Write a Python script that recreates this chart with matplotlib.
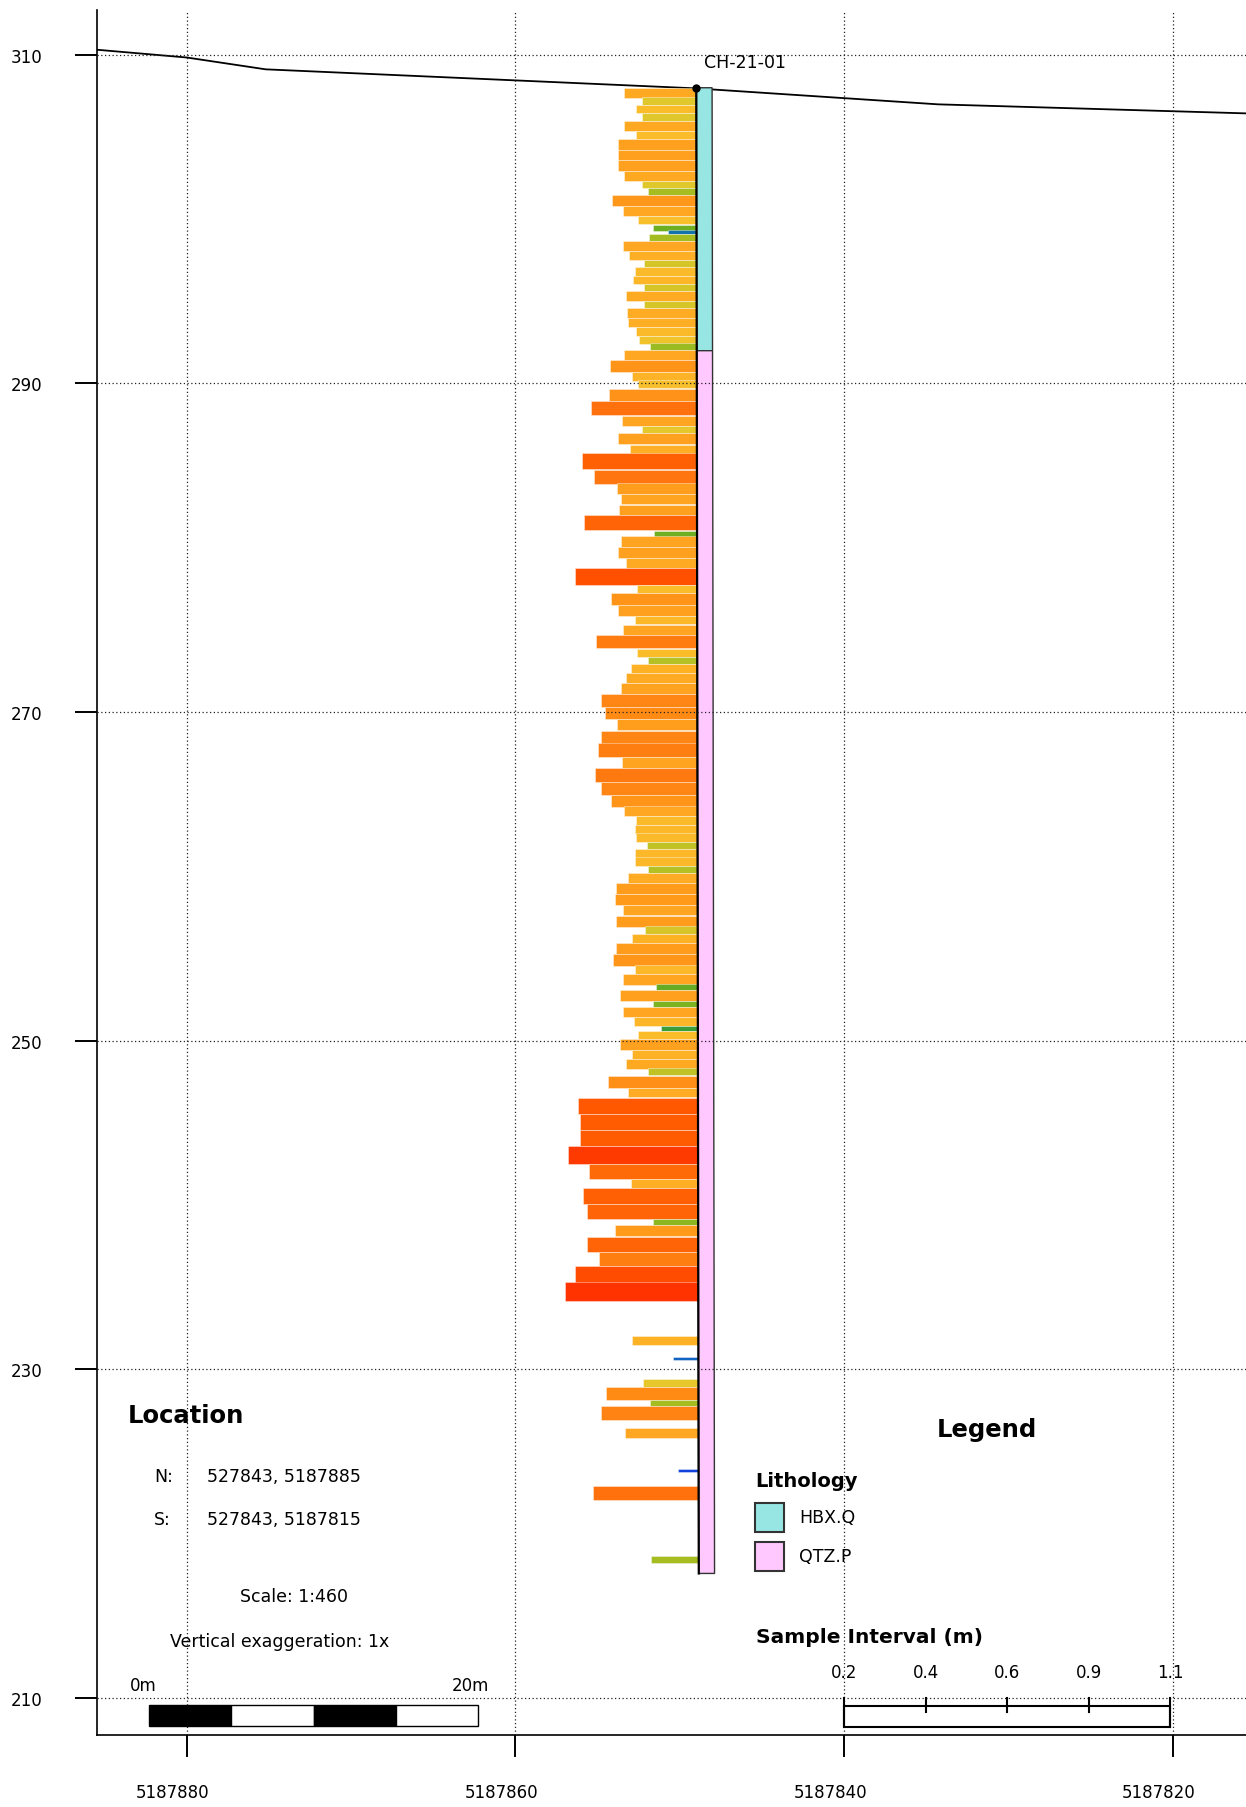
import matplotlib
matplotlib.use('Agg')
import matplotlib.pyplot as plt
import numpy as np
from matplotlib.colors import LinearSegmentedColormap, Normalize
from matplotlib.patches import Rectangle, Polygon
from matplotlib.transforms import ScaledTranslation

plt.rcParams['font.family'] = ['DejaVu Sans']

# drillhole CH-21-01 (vertical section, looking along easting 527843)
hole_name = 'CH-21-01'
collar_n = 5187849.0
collar_elev = 307.98
eoh_n = 5187848.85
eoh_depth = 90.4
col_width = 0.96

litho_codes = ['HBX.Q', 'QTZ.P']
litho_from = [0.0, 16.0]
litho_to = [16.0, 90.4]
litho_colors = ['#98e6e4', '#ffc8ff']

# sample intervals: depth from collar (m) and sample length (m)
depth_from = [0.0, 0.58, 1.05, 1.56, 2.03, 2.62, 3.12, 3.77, 4.42, 5.05,
              5.66, 6.10, 6.51, 7.22, 7.82, 8.34, 8.66, 8.90, 9.31, 9.92,
              10.48, 10.93, 11.44, 11.94, 12.39, 12.98, 13.42, 13.99, 14.58, 15.09,
              15.55, 15.94, 16.57, 17.28, 17.80, 18.33, 19.06, 19.96, 20.57, 21.03,
              21.72, 22.25, 23.24, 24.07, 24.72, 25.37, 26.00, 26.95, 27.30, 27.95,
              28.62, 29.22, 30.26, 30.75, 31.49, 32.13, 32.67, 33.28, 34.15, 34.66,
              35.08, 35.63, 36.22, 36.87, 37.66, 38.43, 39.12, 39.89, 40.74, 41.37,
              42.23, 43.02, 43.72, 44.33, 44.86, 45.37, 45.90, 46.32, 46.83, 47.37,
              47.78, 48.39, 49.04, 49.73, 50.38, 51.03, 51.48, 52.02, 52.71, 53.40,
              53.95, 54.55, 54.92, 55.55, 55.92, 56.53, 57.07, 57.38, 57.90, 58.53,
              59.10, 59.67, 60.12, 60.86, 61.45, 62.43, 63.44, 64.41, 65.47, 66.38,
              66.95, 67.92, 68.83, 69.20, 69.91, 70.86, 71.68, 72.69, 75.97, 77.23,
              78.57, 79.06, 79.83, 80.23, 81.53, 84.05, 85.06, 89.36]
interval = [0.60, 0.45, 0.50, 0.45, 0.60, 0.50, 0.65, 0.65, 0.65, 0.60,
            0.45, 0.40, 0.70, 0.61, 0.49, 0.36, 0.24, 0.40, 0.61, 0.56,
            0.44, 0.51, 0.53, 0.44, 0.59, 0.44, 0.58, 0.57, 0.51, 0.48,
            0.39, 0.61, 0.72, 0.54, 0.49, 0.73, 0.88, 0.62, 0.46, 0.66,
            0.56, 0.96, 0.86, 0.67, 0.63, 0.65, 0.94, 0.36, 0.63, 0.66,
            0.59, 1.02, 0.50, 0.72, 0.66, 0.52, 0.62, 0.84, 0.50, 0.41,
            0.55, 0.59, 0.64, 0.80, 0.77, 0.67, 0.80, 0.83, 0.63, 0.85,
            0.80, 0.72, 0.61, 0.51, 0.52, 0.51, 0.42, 0.52, 0.52, 0.41,
            0.58, 0.68, 0.69, 0.62, 0.68, 0.44, 0.55, 0.68, 0.71, 0.52,
            0.62, 0.35, 0.65, 0.37, 0.62, 0.53, 0.31, 0.50, 0.65, 0.55,
            0.60, 0.42, 0.75, 0.58, 1.00, 0.98, 0.98, 1.08, 0.91, 0.56,
            0.96, 0.93, 0.38, 0.69, 0.93, 0.83, 1.03, 1.11, 0.55, 0.21,
            0.46, 0.77, 0.40, 0.81, 0.61, 0.17, 0.88, 0.40]
bar_scale = 7.3  # metres of bar per metre of sample

# topography along the section
topo_n = [5187885.44, 5187880.0, 5187875.2, 5187849.0, 5187834.3, 5187815.56]
topo_elev = [310.29, 309.82, 309.1, 307.94, 306.97, 306.42]

# colour ramp for sample interval
ramp_vals = [0.15, 0.21, 0.25, 0.31, 0.36, 0.40, 0.43, 0.46, 0.50, 0.58,
             0.66, 0.72, 0.80, 0.86, 0.92, 1.00, 1.05, 1.11]
ramp_cols = ['#1030e8', '#1068c0', '#1878a0', '#3c9e34', '#70b020', '#a8be22',
             '#ccc428', '#e8c82c', '#fbbc2a', '#ffab24', '#ffa01e', '#ff9418',
             '#ff8614', '#ff7610', '#ff6808', '#ff5800', '#ff4400', '#ff3300']
legend_ticks = ['0.2', '0.4', '0.6', '0.9', '1.1']

x_ticks = [5187880, 5187860, 5187840, 5187820]
y_ticks = [210, 230, 250, 270, 290, 310]

W, H = 1246, 1808
fig = plt.figure(figsize=(W / 100, H / 100), dpi=100)
ax = fig.add_axes([97.3 / W, 1 - 1736 / H, (W - 97.3) / W, (1736 - 11) / H])
ax.set_xlim(5187885.44, 5187815.56)
ax.set_ylim(207.75, 312.71)

lo, hi = ramp_vals[0], ramp_vals[-1]
cmap = LinearSegmentedColormap.from_list(
    'interval', [((v - lo) / (hi - lo), c) for v, c in zip(ramp_vals, ramp_cols)])
norm = Normalize(lo, hi)

d0 = np.array(depth_from)
iv = np.array(interval)


def trace_n(d):
    return collar_n + (eoh_n - collar_n) * np.asarray(d) / eoh_depth


ax.barh(collar_elev - d0 - iv / 2, iv * bar_scale, height=iv,
        left=trace_n(d0 + iv / 2), color=cmap(norm(iv)),
        edgecolor=(1, 1, 1, 0.45), linewidth=0.6, zorder=1)

# lithology column
for code, a, b, c in zip(litho_codes, litho_from, litho_to, litho_colors):
    pts = [(trace_n(a), collar_elev - a), (trace_n(a) - col_width, collar_elev - a),
           (trace_n(b) - col_width, collar_elev - b), (trace_n(b), collar_elev - b)]
    ax.add_patch(Polygon(pts, closed=True, facecolor=c, edgecolor='#333333',
                         linewidth=1.0, zorder=1.2))

ax.plot([collar_n, eoh_n], [collar_elev, collar_elev - eoh_depth],
        color='black', lw=1.6, zorder=1.5)
ax.plot(topo_n, topo_elev, color='black', lw=1.3, zorder=0.9)
ax.plot(collar_n, collar_elev, 'o', color='black', ms=5, zorder=3)
ax.text(collar_n - 0.47, collar_elev + 1.54, hole_name, ha='left', va='center',
        fontsize=12.5)

ax.set_xticks(x_ticks, labels=[str(v) for v in x_ticks])
ax.set_yticks(y_ticks, labels=[str(v) for v in y_ticks])
ax.grid(True, linestyle=(0, (1, 2)), color='#222222', lw=0.9)
ax.set_axisbelow(False)
ax.tick_params(axis='both', direction='out', length=15.8, width=1.4, labelsize=12)
ax.tick_params(axis='y', pad=24)
ax.tick_params(axis='x', pad=19)
for sp in ['top', 'right']:
    ax.spines[sp].set_visible(False)
for sp in ['left', 'bottom']:
    ax.spines[sp].set_linewidth(1.2)
for lab in ax.get_xticklabels():
    lab.set_transform(lab.get_transform() + ScaledTranslation(-0.14, 0, fig.dpi_scale_trans))

# overlay in pixel coordinates for the map furniture
ov = fig.add_axes([0, 0, 1, 1])
ov.set_xlim(0, W)
ov.set_ylim(H, 0)
ov.axis('off')

ov.text(128, 1423, 'Location', fontsize=17.5, fontweight='bold', va='baseline')
ov.text(154, 1477, 'N:', fontsize=12.5, va='center')
ov.text(207.3, 1477, '527843, 5187885', fontsize=12.5, va='center')
ov.text(154, 1520, 'S:', fontsize=12.5, va='center')
ov.text(207.3, 1520, '527843, 5187815', fontsize=12.5, va='center')
ov.text(294, 1597, 'Scale: 1:460', fontsize=12.5, ha='center', va='center')
ov.text(280, 1642, 'Vertical exaggeration: 1x', fontsize=12.5, ha='center', va='center')
ov.text(130, 1686, '0m', fontsize=12, va='center')
ov.text(489, 1686, '20m', fontsize=12, ha='right', va='center')
seg = (478 - 149) / 4
for i in range(4):
    ov.add_patch(Rectangle((149 + i * seg, 1705.7), seg, 21,
                           facecolor='black' if i % 2 == 0 else 'white',
                           edgecolor='black', lw=1))

ov.text(987, 1437, 'Legend', fontsize=17.5, fontweight='bold', ha='center', va='baseline')
ov.text(755.7, 1486.7, 'Lithology', fontsize=14, fontweight='bold', va='baseline')
for i, (code, c) in enumerate(zip(litho_codes, litho_colors)):
    y0 = 1503.7 + i * 39
    ov.add_patch(Rectangle((754.7, y0), 29.3, 29, facecolor=c, edgecolor='#333333', lw=1.5))
    ov.text(799.3, y0 + 14, code, fontsize=12.5, va='center')

ov.text(755.7, 1643, 'Sample Interval (m)', fontsize=14.5, fontweight='bold', va='baseline')
step = (1170.4 - 844.3) / 4
ov.add_patch(Rectangle((844.3, 1706.7), 1170.4 - 844.3, 21, facecolor='white',
                       edgecolor='black', lw=1.5))
for i, lab in enumerate(legend_ticks):
    x = 844.3 + i * step
    ov.text(x, 1673, lab, fontsize=12, ha='center', va='center')
    y1 = 1727.7 if i in (0, len(legend_ticks) - 1) else 1713.3
    ov.plot([x, x], [1699.3, y1], color='black', lw=1.5)

fig.savefig('out.png', dpi=100)
